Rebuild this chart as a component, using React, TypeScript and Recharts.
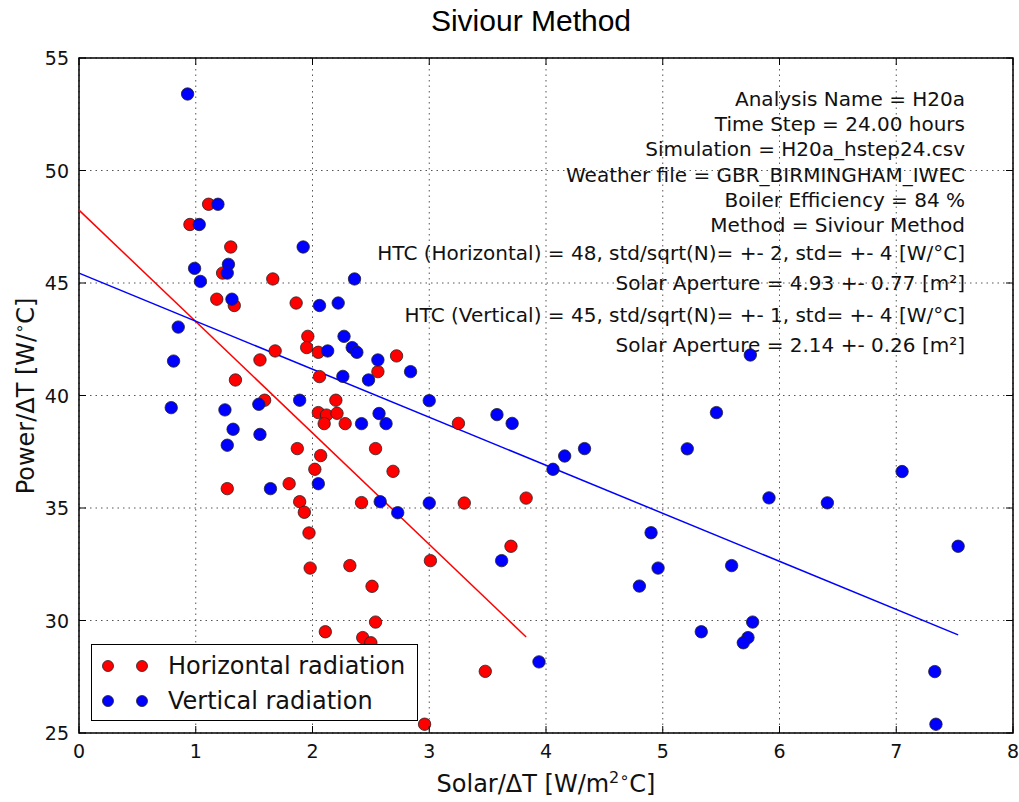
import { ScatterChart, Scatter, XAxis, YAxis, CartesianGrid, ReferenceArea, Legend, Customized } from 'recharts';

const xTicks = [0, 1, 2, 3, 4, 5, 6, 7, 8];
const yTicks = [25, 30, 35, 40, 45, 50, 55];

// Solar/dT vs Power/dT, horizontal radiation
const horizontal = [
  { x: 1.11, y: 48.5 }, { x: 0.95, y: 47.6 }, { x: 1.3, y: 46.6 }, { x: 1.23, y: 45.44 },
  { x: 1.66, y: 45.18 }, { x: 1.18, y: 44.28 }, { x: 1.33, y: 44.0 }, { x: 1.86, y: 44.11 },
  { x: 1.96, y: 42.63 }, { x: 1.95, y: 42.13 }, { x: 2.05, y: 41.92 }, { x: 1.68, y: 41.98 },
  { x: 1.55, y: 41.58 }, { x: 2.56, y: 41.06 }, { x: 1.34, y: 40.69 }, { x: 2.06, y: 40.84 },
  { x: 1.59, y: 39.79 }, { x: 2.2, y: 39.79 }, { x: 2.05, y: 39.24 }, { x: 2.12, y: 39.13 },
  { x: 2.21, y: 39.21 }, { x: 2.1, y: 38.75 }, { x: 2.28, y: 38.75 }, { x: 1.87, y: 37.64 },
  { x: 2.54, y: 37.64 }, { x: 2.07, y: 37.33 }, { x: 2.02, y: 36.72 }, { x: 2.69, y: 36.63 },
  { x: 1.8, y: 36.08 }, { x: 1.27, y: 35.86 }, { x: 1.89, y: 35.28 }, { x: 2.42, y: 35.24 },
  { x: 1.93, y: 34.81 }, { x: 1.97, y: 33.89 }, { x: 1.98, y: 32.33 }, { x: 2.32, y: 32.44 },
  { x: 3.01, y: 32.66 }, { x: 3.7, y: 33.3 }, { x: 2.51, y: 31.52 }, { x: 2.54, y: 29.93 },
  { x: 2.11, y: 29.5 }, { x: 2.43, y: 29.24 }, { x: 2.5, y: 29.01 }, { x: 3.48, y: 27.74 },
  { x: 2.96, y: 25.39 }, { x: 2.72, y: 41.76 }, { x: 3.25, y: 38.76 }, { x: 3.3, y: 35.22 },
  { x: 3.83, y: 35.44 },
];

// vertical radiation
const vertical = [
  { x: 0.93, y: 53.4 }, { x: 1.19, y: 48.5 }, { x: 1.03, y: 47.6 }, { x: 1.92, y: 46.6 },
  { x: 0.99, y: 45.65 }, { x: 1.28, y: 45.83 }, { x: 1.27, y: 45.44 }, { x: 1.04, y: 45.07 },
  { x: 2.36, y: 45.18 }, { x: 1.31, y: 44.28 }, { x: 2.06, y: 44.0 }, { x: 2.22, y: 44.11 },
  { x: 0.85, y: 43.04 }, { x: 2.27, y: 42.63 }, { x: 2.13, y: 41.98 }, { x: 2.34, y: 42.13 },
  { x: 2.38, y: 41.92 }, { x: 0.81, y: 41.53 }, { x: 2.56, y: 41.58 }, { x: 2.26, y: 40.85 },
  { x: 2.48, y: 40.69 }, { x: 0.79, y: 39.46 }, { x: 1.25, y: 39.36 }, { x: 1.54, y: 39.61 },
  { x: 1.89, y: 39.79 }, { x: 2.57, y: 39.2 }, { x: 2.42, y: 38.75 }, { x: 2.63, y: 38.75 },
  { x: 1.32, y: 38.5 }, { x: 1.55, y: 38.27 }, { x: 1.27, y: 37.79 }, { x: 2.05, y: 36.08 },
  { x: 1.64, y: 35.86 }, { x: 2.58, y: 35.28 }, { x: 3.62, y: 32.66 }, { x: 3.94, y: 28.16 },
  { x: 2.84, y: 41.06 }, { x: 3.0, y: 39.77 }, { x: 3.58, y: 39.15 }, { x: 3.71, y: 38.76 },
  { x: 4.16, y: 37.31 }, { x: 4.33, y: 37.64 }, { x: 4.06, y: 36.72 }, { x: 2.73, y: 34.79 },
  { x: 3.0, y: 35.22 }, { x: 4.9, y: 33.9 }, { x: 5.46, y: 39.24 }, { x: 5.21, y: 37.63 },
  { x: 7.05, y: 36.62 }, { x: 5.91, y: 35.45 }, { x: 6.41, y: 35.23 }, { x: 4.96, y: 32.33 },
  { x: 4.8, y: 31.53 }, { x: 5.59, y: 32.44 }, { x: 7.53, y: 33.3 }, { x: 5.77, y: 29.93 },
  { x: 5.33, y: 29.5 }, { x: 5.73, y: 29.24 }, { x: 5.69, y: 29.01 }, { x: 7.33, y: 27.73 },
  { x: 7.34, y: 25.39 }, { x: 5.75, y: 41.8 },
];

// regression lines (end points)
const horizontalFit = [{ x: 0, y: 48.24 }, { x: 3.83, y: 29.27 }];
const verticalFit = [{ x: 0, y: 45.44 }, { x: 7.53, y: 29.36 }];

const seriesNames = ['Horizontal radiation', 'Vertical radiation'];
const seriesColors = ['#ff0000', '#0000ff'];

const infoLines = [
  'Analysis Name = H20a',
  'Time Step = 24.00 hours',
  'Simulation = H20a_hstep24.csv',
  'Weather file = GBR_BIRMINGHAM_IWEC',
  'Boiler Efficiency = 84 %',
  'Method = Siviour Method',
  'HTC (Horizontal) = 48, std/sqrt(N)= +- 2, std= +- 4 [W/°C]',
  'Solar Aperture = 4.93 +- 0.77 [m²]',
  'HTC (Vertical) = 45, std/sqrt(N)= +- 1, std= +- 4 [W/°C]',
  'Solar Aperture = 2.14 +- 0.26 [m²]',
];
const infoY = [106, 131, 156, 182, 207, 232, 260, 290, 322, 352];

const W = 1019;
const H = 802;
const PLOT = { left: 79, top: 58, right: 1013, bottom: 733 };
const FONT = '"DejaVu Sans", sans-serif';
const TICK_LEN = 7;
const AXIS_W = 60;
const AXIS_H = 40;

const XTick = (props: any) => {
  const { x, y, payload } = props;
  return (
    <g>
      <line x1={x} y1={y} x2={x} y2={y - TICK_LEN} stroke="#000" strokeWidth={1} />
      <line x1={x} y1={PLOT.top} x2={x} y2={PLOT.top + TICK_LEN} stroke="#000" strokeWidth={1} />
      <text x={x} y={y + 25} textAnchor="middle" fontFamily={FONT} fontSize={19} fill="#111">
        {payload.value}
      </text>
    </g>
  );
};

const YTick = (props: any) => {
  const { x, y, payload } = props;
  return (
    <g>
      <line x1={x} y1={y} x2={x + TICK_LEN} y2={y} stroke="#000" strokeWidth={1} />
      <line x1={PLOT.right - TICK_LEN} y1={y} x2={PLOT.right} y2={y} stroke="#000" strokeWidth={1} />
      <text x={x - 10} y={y + 7} textAnchor="end" fontFamily={FONT} fontSize={19} fill="#111">
        {payload.value}
      </text>
    </g>
  );
};

const dot = (color: string) => (props: any) => (
  <circle cx={props.cx} cy={props.cy} r={6.2} fill={color} stroke="#222" strokeWidth={0.8} />
);

const Texts = () => (
  <g>
    <text x={531} y={31} textAnchor="middle" fontFamily='"Liberation Sans", Arial, sans-serif' fontSize={30} fill="#000">
      Siviour  Method
    </text>
    <text x={546} y={792} textAnchor="middle" fontFamily={FONT} fontSize={24} fill="#111">
      Solar/ΔT [W/m<tspan fontSize={16} dy={-9}>2</tspan><tspan fontSize={16}>∘</tspan><tspan dy={9}>C]</tspan>
    </text>
    <text
      x={34}
      y={396}
      textAnchor="middle"
      fontFamily={FONT}
      fontSize={24}
      fill="#111"
      transform="rotate(-90 34 396)"
    >
      Power/ΔT [W/<tspan fontSize={16} dy={-9}>∘</tspan><tspan dy={9}>C]</tspan>
    </text>
    {infoLines.map((t, i) => (
      <text key={i} x={965} y={infoY[i]} textAnchor="end" fontFamily={FONT} fontSize={20} fill="#111">
        {t}
      </text>
    ))}
  </g>
);

const LegendBox = () => (
  <div
    style={{
      width: 327,
      height: 77,
      border: '1.5px solid #000',
      background: '#fff',
      boxSizing: 'border-box',
      fontFamily: FONT,
      fontSize: 24,
      paddingTop: 3,
    }}
  >
    {seriesNames.map((name, i) => (
      <div key={name} style={{ display: 'flex', alignItems: 'center', height: 35 }}>
        <svg width={76} height={20}>
          <circle cx={16} cy={10} r={5.5} fill={seriesColors[i]} stroke="#222" strokeWidth={0.8} />
          <circle cx={50} cy={10} r={5.5} fill={seriesColors[i]} stroke="#222" strokeWidth={0.8} />
        </svg>
        <span style={{ color: '#111' }}>{name}</span>
      </div>
    ))}
  </div>
);

export default function App() {
  return (
    <div style={{ position: 'absolute', left: 0, top: 0, width: W, height: H, background: '#fff' }}>
      <ScatterChart
        width={W}
        height={H}
        margin={{
          top: PLOT.top,
          left: PLOT.left - AXIS_W,
          right: W - PLOT.right,
          bottom: H - PLOT.bottom - AXIS_H,
        }}
      >
        <CartesianGrid stroke="#555" strokeDasharray="1.5 4" />
        <XAxis
          type="number"
          dataKey="x"
          domain={[0, 8]}
          ticks={xTicks}
          height={AXIS_H}
          tickSize={0}
          tickMargin={0}
          tickLine={false}
          axisLine={false}
          tick={<XTick />}
          interval={0}
        />
        <YAxis
          type="number"
          dataKey="y"
          domain={[25, 55]}
          ticks={yTicks}
          width={AXIS_W}
          tickSize={0}
          tickMargin={0}
          tickLine={false}
          axisLine={false}
          tick={<YTick />}
          interval={0}
        />
        <Scatter
          data={horizontalFit}
          line={{ stroke: seriesColors[0], strokeWidth: 1.5 }}
          shape={() => <g />}
          legendType="none"
          isAnimationActive={false}
        />
        <Scatter
          data={verticalFit}
          line={{ stroke: seriesColors[1], strokeWidth: 1.5 }}
          shape={() => <g />}
          legendType="none"
          isAnimationActive={false}
        />
        <Scatter name={seriesNames[0]} data={horizontal} shape={dot(seriesColors[0])} isAnimationActive={false} />
        <Scatter name={seriesNames[1]} data={vertical} shape={dot(seriesColors[1])} isAnimationActive={false} />
        <ReferenceArea x1={0} x2={8} y1={25} y2={55} fill="none" stroke="#000" strokeWidth={1.5} ifOverflow="visible" />
        <Legend
          layout="horizontal"
          verticalAlign="middle"
          align="center"
          content={() => <LegendBox />}
          wrapperStyle={{ left: 91, top: 644, width: 'auto' }}
        />
        <Customized component={<Texts />} />
      </ScatterChart>
    </div>
  );
}
